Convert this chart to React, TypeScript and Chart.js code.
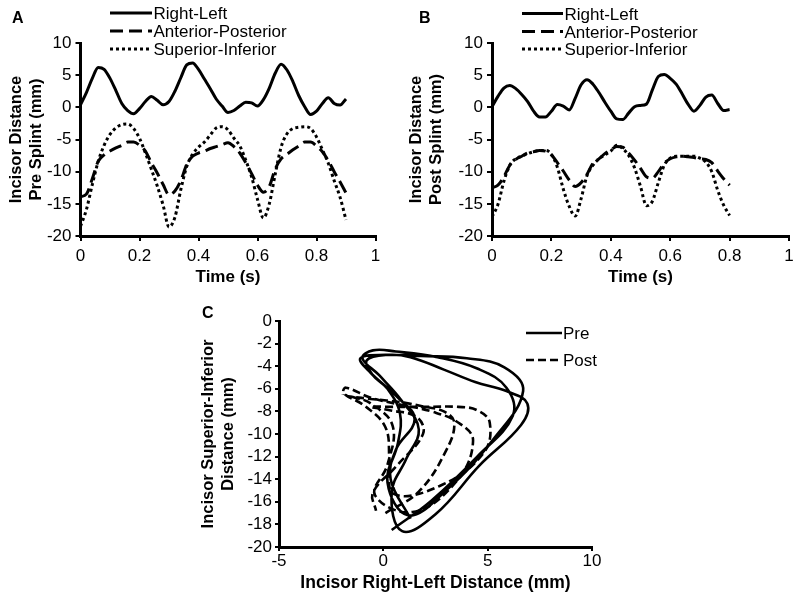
import React, { useEffect, useRef } from "react";
import { Chart, registerables } from "chart.js";

Chart.register(...registerables);

const FONT = '"Liberation Sans", Arial, Helvetica, sans-serif';

// ---------- Panel A: pre splint ----------
const timeA = [
  0, 0.02, 0.04, 0.06, 0.08, 0.1, 0.12, 0.14, 0.16, 0.18, 0.2, 0.22, 0.24, 0.26, 0.28, 0.3,
  0.32, 0.34, 0.36, 0.38, 0.4, 0.42, 0.44, 0.46, 0.48, 0.5, 0.52, 0.54, 0.56, 0.58, 0.6,
  0.62, 0.64, 0.66, 0.68, 0.7, 0.72, 0.74, 0.76, 0.78, 0.8, 0.82, 0.84, 0.86, 0.88, 0.9,
];
const rightLeftA = [
  0.4, 2.3, 4.5, 6.2, 5.9, 4.5, 2.6, 0.6, -0.5, -1.0, -0.2, 0.9, 1.7, 1.1, 0.4, 0.9,
  2.5, 4.6, 6.6, 6.9, 5.9, 4.4, 2.9, 1.3, 0.2, -0.8, -0.5, 0.2, 0.8, 0.7, 0.2,
  1.2, 3.0, 5.3, 6.7, 5.8, 4.0, 1.8, 0.1, -1.1, -0.6, 0.6, 1.5, 0.6, 0.35, 1.3,
];
const antPostA = [
  -13.9, -13.5, -11.1, -8.4, -7.4, -6.8, -6.3, -5.9, -5.4, -5.4, -5.9, -6.8, -8.6, -10.2, -12.0, -13.6,
  -13.0, -11.4, -8.9, -7.6, -7.1, -6.8, -6.4, -6.1, -5.8, -5.5, -6.1, -7.1, -8.6, -10.3, -12.1,
  -13.2, -12.3, -9.6, -8.0, -7.3, -6.6, -6.0, -5.4, -5.4, -6.0, -6.9, -8.3, -10.0, -11.6, -13.3,
];
const supInfA = [
  -18.5, -15.9, -12.0, -8.4, -5.9, -4.2, -3.2, -2.7, -2.6, -3.3, -4.8, -7.1, -9.6, -12.2, -15.2, -18.6,
  -17.1, -12.8, -9.2, -7.3, -6.2, -5.4, -4.3, -3.2, -3.0, -3.5, -4.8, -6.0, -8.2, -10.8, -14.3,
  -17.2, -15.0, -10.4, -6.2, -4.1, -3.3, -3.1, -3.0, -3.3, -4.6, -6.6, -8.7, -11.4, -14.0, -17.5,
];

// ---------- Panel B: post splint ----------
const timeB = [
  0, 0.02, 0.04, 0.06, 0.08, 0.1, 0.12, 0.14, 0.16, 0.18, 0.2, 0.22, 0.24, 0.26, 0.28, 0.3,
  0.32, 0.34, 0.36, 0.38, 0.4, 0.42, 0.44, 0.46, 0.48, 0.5, 0.52, 0.54, 0.56, 0.58, 0.6,
  0.62, 0.64, 0.66, 0.68, 0.7, 0.72, 0.74, 0.76, 0.78, 0.8,
];
const rightLeftB = [
  0.1, 1.7, 3.0, 3.4, 2.9, 2.0, 0.9, -0.6, -1.5, -1.5, -0.6, 0.45, 0.2, -0.4, 1.4, 3.5,
  4.3, 3.6, 2.3, 0.8, -0.6, -1.8, -1.9, -0.9, 0.1, 0.3, 0.5, 2.7, 4.8, 5.1, 4.5,
  3.6, 2.1, 0.5, -0.6, 0.3, 1.6, 1.9, 0.6, -0.5, -0.35,
];
const antPostB = [
  -12.5, -12.1, -10.8, -9.0, -8.1, -7.6, -7.1, -6.9, -6.7, -6.8, -7.4, -8.6, -9.9, -11.3, -12.3, -11.7,
  -10.4, -8.7, -8.0, -7.2, -6.6, -6.1, -6.2, -7.1, -8.2, -9.5, -10.8, -11.0, -10.0, -8.7, -8.0,
  -7.7, -7.6, -7.7, -7.8, -8.0, -8.1, -8.6, -9.9, -11.1, -12.1,
];
const supInfB = [
  -17.0, -15.1, -11.5, -9.0, -8.0, -7.6, -7.2, -6.9, -6.7, -6.7, -7.3, -9.3, -12.7, -15.4, -16.9, -14.2,
  -10.6, -9.0, -8.0, -7.4, -6.8, -5.9, -6.4, -7.5, -9.4, -12.3, -15.3, -14.6, -11.7, -9.0, -7.9,
  -7.6, -7.6, -7.6, -7.6, -7.9, -8.5, -10.0, -12.9, -15.2, -16.8,
];

const seriesLabels = ["Right-Left", "Anterior-Posterior", "Superior-Inferior"];
const loopLabels = ["Pre", "Post"];
const timeTicks = [0, 0.2, 0.4, 0.6, 0.8, 1];
const distTicks = [-20, -15, -10, -5, 0, 5, 10];
const loopXTicks = [-5, 0, 5, 10];
const loopYTicks = [-20, -18, -16, -14, -12, -10, -8, -6, -4, -2, 0];

const fmt = (v: number) => String(Math.round(v * 10) / 10);

// draws the panel letter and the line legend
const decorPlugin = {
  id: "panelDecor",
  afterDraw(chart: any, _args: any, opts: any) {
    const ctx = chart.ctx as CanvasRenderingContext2D;
    ctx.save();
    ctx.fillStyle = "#000";
    ctx.textBaseline = "alphabetic";
    ctx.textAlign = "left";
    ctx.font = `bold ${opts.letterSize}px ${FONT}`;
    ctx.fillText(opts.letter, opts.letterX, opts.letterY);
    chart.data.datasets.forEach((ds: any, i: number) => {
      const y = opts.rows[i];
      ctx.beginPath();
      ctx.setLineDash(ds.borderDash || []);
      ctx.lineWidth = ds.borderWidth;
      ctx.strokeStyle = ds.borderColor;
      ctx.moveTo(opts.lineX0, y - opts.lineRise);
      ctx.lineTo(opts.lineX1, y - opts.lineRise);
      ctx.stroke();
      ctx.setLineDash([]);
      ctx.font = `${opts.fontSize}px ${FONT}`;
      ctx.fillText(ds.label, opts.textX, y);
    });
    ctx.restore();
  },
};

function axis(opts: any) {
  const { tickValues, tickLen, pad, fixed, horizontal, min, max, title } = opts;
  return {
    type: "linear",
    min,
    max,
    afterBuildTicks: (s: any) => {
      s.ticks = tickValues.map((v: number) => ({ value: v }));
    },
    afterFit: (s: any) => {
      if (horizontal) s.height = fixed;
      else s.width = fixed;
    },
    grid: {
      display: true,
      drawOnChartArea: false,
      drawTicks: true,
      tickLength: tickLen,
      color: "#000",
      lineWidth: 2,
    },
    border: { display: true, color: "#000", width: 3 },
    ticks: {
      color: "#000",
      font: { size: 17, family: FONT },
      padding: pad,
      maxRotation: 0,
      autoSkip: false,
      callback: (v: number) => fmt(v),
    },
    title,
  };
}

function timeConfig(
  time: number[],
  rl: number[],
  ap: number[],
  si: number[],
  yTitle: string[],
  geom: any,
  decor: any
) {
  const pts = (ys: number[]) => time.map((t, i) => ({ x: t, y: ys[i] }));
  const base = {
    borderColor: "#000",
    borderWidth: 3,
    pointRadius: 0,
    fill: false,
    cubicInterpolationMode: "monotone",
  };
  return {
    type: "line",
    data: {
      datasets: [
        { ...base, label: seriesLabels[0], data: pts(rl), borderDash: [] },
        { ...base, label: seriesLabels[1], data: pts(ap), borderDash: [13, 6] },
        { ...base, label: seriesLabels[2], data: pts(si), borderDash: [3, 3] },
      ],
    },
    options: {
      responsive: false,
      animation: false,
      events: [],
      layout: { padding: { left: 0, right: geom.padRight, top: geom.padTop, bottom: 0 } },
      plugins: { legend: { display: false }, tooltip: { enabled: false }, panelDecor: decor },
      scales: {
        x: axis({
          tickValues: timeTicks,
          min: 0,
          max: 1,
          tickLen: 5,
          pad: 5,
          fixed: geom.xHeight,
          horizontal: true,
          title: {
            display: true,
            text: "Time (s)",
            color: "#000",
            font: { size: 17, weight: "bold", family: FONT },
            padding: { top: 0, bottom: 12 },
          },
        }),
        y: axis({
          tickValues: distTicks,
          min: -20,
          max: 10,
          tickLen: 5,
          pad: 4,
          fixed: geom.yWidth,
          horizontal: false,
          title: {
            display: true,
            text: yTitle,
            color: "#000",
            font: { size: 16.5, weight: "bold", family: FONT, lineHeight: 1.22 },
            padding: { top: 6, bottom: 0 },
          },
        }),
      },
    },
    plugins: [decorPlugin],
  };
}

function loopConfig() {
  const pair = (xs: number[], ys: number[]) => xs.map((x, i) => ({ x, y: ys[i] }));
  const base = {
    borderColor: "#000",
    borderWidth: 2.6,
    pointRadius: 0,
    fill: false,
    showLine: true,
    tension: 0.4,
  };
  return {
    type: "scatter",
    data: {
      datasets: [
        { ...base, label: loopLabels[0], data: pair(rightLeftA, supInfA), borderDash: [] },
        { ...base, label: loopLabels[1], data: pair(rightLeftB, supInfB), borderDash: [8, 4] },
      ],
    },
    options: {
      responsive: false,
      animation: false,
      events: [],
      layout: { padding: { left: 0, right: 28, top: 21, bottom: 0 } },
      plugins: {
        legend: { display: false },
        tooltip: { enabled: false },
        panelDecor: {
          letter: "C",
          letterSize: 16,
          letterX: 12,
          letterY: 18,
          rows: [39, 66],
          lineX0: 336,
          lineX1: 372,
          lineRise: 6,
          textX: 373,
          fontSize: 17,
        },
      },
      scales: {
        x: axis({
          tickValues: loopXTicks,
          min: -5,
          max: 10,
          tickLen: 4,
          pad: 0,
          fixed: 57,
          horizontal: true,
          title: {
            display: true,
            text: "Incisor Right-Left Distance (mm)",
            color: "#000",
            font: { size: 17.5, weight: "bold", family: FONT },
            padding: { top: 0, bottom: 10 },
          },
        }),
        y: axis({
          tickValues: loopYTicks,
          min: -20,
          max: 0,
          tickLen: 4,
          pad: 3,
          fixed: 89,
          horizontal: false,
          title: {
            display: true,
            text: ["Incisor Superior-Inferior", "Distance (mm)"],
            color: "#000",
            font: { size: 16.5, weight: "bold", family: FONT, lineHeight: 1.22 },
            padding: { top: 8, bottom: 0 },
          },
        }),
      },
    },
    plugins: [decorPlugin],
  };
}

function ChartCanvas(props: { left: number; top: number; width: number; height: number; make: () => any }) {
  const ref = useRef<HTMLCanvasElement | null>(null);
  useEffect(() => {
    const chart = new Chart(ref.current as HTMLCanvasElement, props.make());
    return () => chart.destroy();
  }, []);
  return (
    <canvas
      ref={ref}
      width={props.width}
      height={props.height}
      style={{ position: "absolute", left: props.left, top: props.top, width: props.width, height: props.height }}
    />
  );
}

export default function App() {
  return (
    <div style={{ position: "absolute", left: 0, top: 0, width: 800, height: 604, background: "#fff", overflow: "hidden" }}>
      <ChartCanvas
        left={0}
        top={0}
        width={400}
        height={300}
        make={() =>
          timeConfig(
            timeA,
            rightLeftA,
            antPostA,
            supInfA,
            ["Incisor Distance", "Pre Splint (mm)"],
            { padRight: 24.5, padTop: 43, xHeight: 64, yWidth: 80.5 },
            {
              letter: "A",
              letterSize: 16,
              letterX: 12,
              letterY: 23,
              rows: [19, 37, 55],
              lineX0: 110,
              lineX1: 152,
              lineRise: 6,
              textX: 153.5,
              fontSize: 17,
            }
          )
        }
      />
      <ChartCanvas
        left={400}
        top={0}
        width={400}
        height={300}
        make={() =>
          timeConfig(
            timeB,
            rightLeftB,
            antPostB,
            supInfB,
            ["Incisor Distance", "Post Splint (mm)"],
            { padRight: 11, padTop: 43, xHeight: 64, yWidth: 92 },
            {
              letter: "B",
              letterSize: 16,
              letterX: 19,
              letterY: 23,
              rows: [19.5, 37.5, 55],
              lineX0: 122,
              lineX1: 163,
              lineRise: 6,
              textX: 164.5,
              fontSize: 17,
            }
          )
        }
      />
      <ChartCanvas left={190} top={300} width={430} height={304} make={loopConfig} />
    </div>
  );
}
